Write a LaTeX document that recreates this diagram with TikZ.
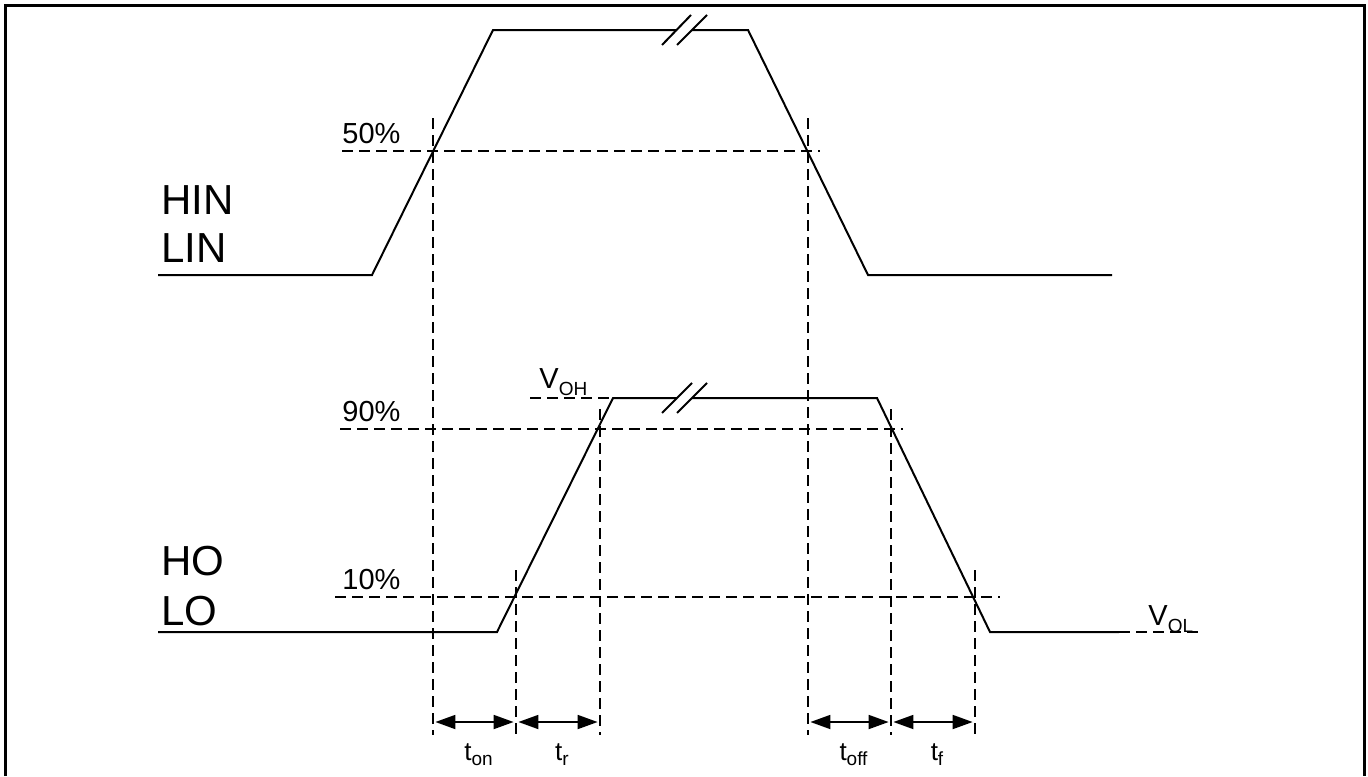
\documentclass[tikz,border=0pt]{standalone}
\usepackage{fontspec}
\setmainfont{Liberation Sans}
\usepackage{tikz}
\usetikzlibrary{arrows.meta,calc}
\definecolor{TInk}{HTML}{000000}
\newcommand{\vsub}[1]{\raisebox{-3.5pt}{\fontsize{9.5}{11}\selectfont #1}}
\newcommand{\tsub}[1]{\raisebox{-2.5pt}{\fontsize{9.5}{11}\selectfont #1}}
\tikzset{
  wave/.style={TInk,line width=1pt,line join=miter},
  guide/.style={TInk,line width=0.75pt,dash pattern=on 5.5pt off 3pt},
  span/.style={TInk,line width=0.9pt,shorten <=1.2pt,shorten >=1.2pt,
    {Triangle[length=10pt,width=7pt]}-{Triangle[length=10pt,width=7pt]}},
  siglbl/.style={font=\fontsize{21}{25}\selectfont,anchor=base west,inner sep=0pt},
  pctlbl/.style={font=\fontsize{14.5}{17}\selectfont,anchor=base west,inner sep=0pt},
  tlbl/.style={font=\fontsize{13}{16}\selectfont,anchor=base,inner sep=0pt},
}

\begin{document}
\begin{tikzpicture}[x=0.5pt,y=-0.5pt]
    \useasboundingbox (0,0) rectangle (1368,776);
    % frame
    \draw[TInk,line width=1.5pt] (5,776) -- (5,5) -- (1364,5) -- (1364,776);
    % input waveform (top)
    \coordinate (in0) at (158,275);
    \coordinate (in1) at (372,275);
    \coordinate (in2) at (493,30);
    \coordinate (in3) at (748,30);
    \coordinate (in4) at (868,275);
    \coordinate (in5) at (1112,275);
    \draw[wave] (in0) -- (in1) -- (in2) -- (677,30);
    \draw[wave] (692,30) -- (in3) -- (in4) -- (in5);
    \draw[wave] (662,45) -- (691,15);
    \draw[wave] (677,45) -- (707,15);
    \node[siglbl] (hin) at (161,214) {HIN};
    \node[siglbl] (lin) at (161,262) {LIN};
    % output waveform (bottom)
    \coordinate (out0) at (158,632);
    \coordinate (out1) at (497,632);
    \coordinate (out2) at (613,398);
    \coordinate (out3) at (877,398);
    \coordinate (out4) at (990,632);
    \coordinate (out5) at (1119,632);
    \draw[wave] (out0) -- (out1) -- (out2) -- (677,398);
    \draw[wave] (692,398) -- (out3) -- (out4) -- (out5);
    \draw[wave] (662,413) -- (692,383);
    \draw[wave] (677,413) -- (707,383);
    \node[siglbl] (ho) at (161,575) {HO};
    \node[siglbl] (lo) at (161,625) {LO};
    % levels
    \draw[guide] (530,398) -- (out2);
    \draw[guide] (out5) -- (1199,632);
    \node[pctlbl] (voh) at (539,388) {V\vsub{OH}};
    \node[pctlbl] (vol) at (1148,625) {V\vsub{OL}};
    \draw[guide] (342,151) -- (820,151);
    \draw[guide] (340,429) -- (903,429);
    \draw[guide] (335,597) -- (1000,597);
    \node[pctlbl] (p50) at (342,143) {50\%};
    \node[pctlbl] (p90) at (342,421) {90\%};
    \node[pctlbl] (p10) at (342,589) {10\%};
    % timing guides
    \foreach \gx/\gy in {433/118, 808/118, 516/570, 600/409, 891/409, 975/570}
      \draw[guide] (\gx,\gy) -- (\gx,735);
    \coordinate (ton-a) at (433,722);
    \coordinate (ton-b) at (516,722);
    \coordinate (tr-b) at (600,722);
    \coordinate (toff-a) at (808,722);
    \coordinate (toff-b) at (891,722);
    \coordinate (tf-b) at (975,722);
    \draw[span] (ton-a) -- (ton-b);
    \draw[span] (ton-b) -- (tr-b);
    \draw[span] (toff-a) -- (toff-b);
    \draw[span] (toff-b) -- (tf-b);
    \node[tlbl] (ton) at ($(ton-a)!0.5!(ton-b)+(4,38)$) {t\tsub{on}};
    \node[tlbl] (tr) at ($(ton-b)!0.5!(tr-b)+(4,38)$) {t\tsub{r}};
    \node[tlbl] (toff) at ($(toff-a)!0.5!(toff-b)+(4,38)$) {t\tsub{off}};
    \node[tlbl] (tf) at ($(toff-b)!0.5!(tf-b)+(4,38)$) {t\tsub{f}};
\end{tikzpicture}
\end{document}
